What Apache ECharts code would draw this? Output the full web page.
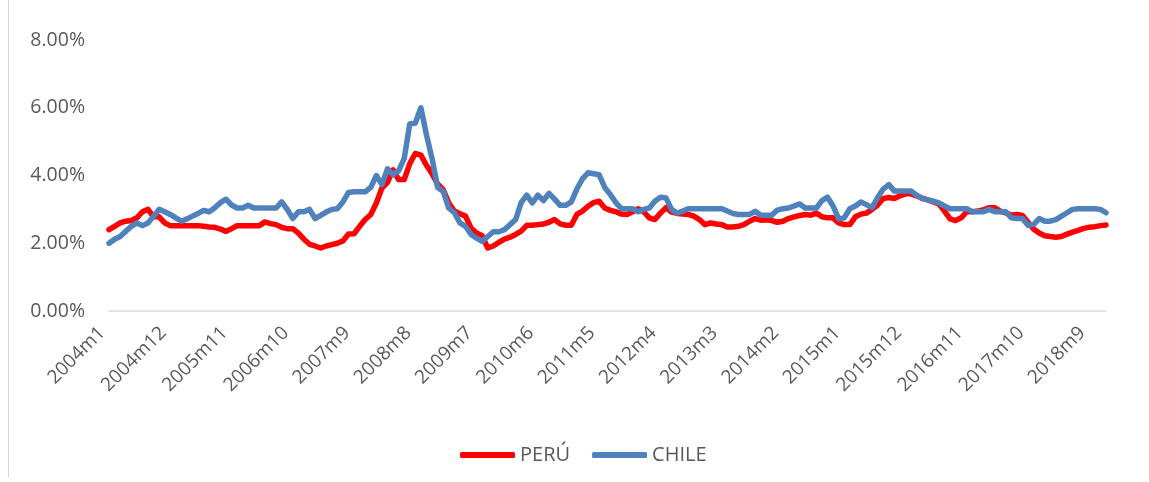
<!DOCTYPE html>
<html>
<head>
<meta charset="utf-8">
<script src="https://cdn.jsdelivr.net/npm/echarts@6/dist/echarts.min.js"></script>
<style>
  html, body { margin: 0; padding: 0; background: #fff; }
  #main { width: 1149px; height: 482px; }
</style>
</head>
<body>
<div id="main"></div>
<script>
// monthly labels 2004m1 .. 2018m12
var months = [];
for (var y = 2004; y <= 2018; y++) {
  for (var m = 1; m <= 12; m++) months.push(y + 'm' + m);
}

// PERÚ (%)
var peru = [
  2.4, 2.5, 2.6, 2.65, 2.67, 2.75, 2.93, 3.0, 2.78, 2.78,
  2.6, 2.52, 2.52, 2.52, 2.52, 2.52, 2.52, 2.5, 2.48, 2.47,
  2.42, 2.35, 2.43, 2.52, 2.52, 2.52, 2.52, 2.52, 2.63, 2.58,
  2.55, 2.47, 2.43, 2.43, 2.3, 2.12, 1.97, 1.92, 1.86, 1.92,
  1.96, 2.0, 2.07, 2.27, 2.28, 2.5, 2.7, 2.85, 3.19, 3.63,
  3.8, 4.17, 3.88, 3.88, 4.35, 4.65, 4.6, 4.3, 4.05, 3.75,
  3.58, 3.19, 2.95, 2.87, 2.8, 2.45, 2.3, 2.22, 1.86, 1.92,
  2.03, 2.12, 2.18, 2.26, 2.36, 2.53, 2.53, 2.55, 2.57, 2.62,
  2.7, 2.57, 2.53, 2.53, 2.85, 2.95, 3.09, 3.2, 3.24, 3.04,
  2.97, 2.93, 2.86, 2.85, 2.93, 3.02, 2.93, 2.75, 2.7, 2.89,
  3.05, 2.92, 2.88, 2.86, 2.85, 2.8, 2.7, 2.55, 2.6, 2.57,
  2.55, 2.48, 2.48, 2.5, 2.55, 2.65, 2.73, 2.68, 2.69, 2.67,
  2.62, 2.65, 2.73, 2.78, 2.82, 2.85, 2.83, 2.89, 2.78, 2.75,
  2.75, 2.6, 2.55, 2.55, 2.78, 2.86, 2.89, 3.0, 3.13, 3.32,
  3.35, 3.32, 3.4, 3.46, 3.46, 3.4, 3.33, 3.28, 3.22, 3.16,
  2.95, 2.72, 2.67, 2.75, 2.93, 2.93, 2.95, 2.99, 3.05, 3.05,
  2.95, 2.9, 2.83, 2.85, 2.82, 2.62, 2.42, 2.3, 2.22, 2.2,
  2.18, 2.2, 2.27, 2.33, 2.38, 2.44, 2.47, 2.49, 2.52, 2.54
];

// CHILE (%)
var chile = [
  2.0, 2.12, 2.2, 2.35, 2.5, 2.6, 2.52, 2.6, 2.8, 3.0,
  2.93, 2.85, 2.75, 2.65, 2.72, 2.8, 2.88, 2.97, 2.93, 3.05,
  3.2, 3.3, 3.13, 3.04, 3.04, 3.12, 3.04, 3.04, 3.04, 3.04,
  3.04, 3.22, 3.0, 2.73, 2.93, 2.93, 3.0, 2.73, 2.82, 2.92,
  3.0, 3.02, 3.22, 3.5, 3.52, 3.52, 3.52, 3.65, 4.0, 3.73,
  4.2, 4.02, 4.14, 4.5, 5.52, 5.55, 6.0, 5.2, 4.5, 3.65,
  3.53, 3.04, 2.9, 2.6, 2.5, 2.26, 2.15, 2.06, 2.2, 2.34,
  2.34, 2.4, 2.55, 2.7, 3.2, 3.42, 3.19, 3.42, 3.26, 3.47,
  3.3, 3.12, 3.12, 3.22, 3.6, 3.9, 4.08, 4.05, 4.02, 3.65,
  3.44, 3.2, 3.02, 3.02, 3.02, 2.93, 3.0, 3.04, 3.24, 3.36,
  3.34, 3.0, 2.89, 2.95, 3.02, 3.02, 3.02, 3.02, 3.02, 3.02,
  3.02, 2.95, 2.88, 2.85, 2.85, 2.85, 2.94, 2.83, 2.83, 2.83,
  2.98, 3.02, 3.04, 3.1, 3.16, 3.04, 3.04, 3.04, 3.26, 3.36,
  3.1, 2.72, 2.75, 3.02, 3.1, 3.22, 3.14, 3.05, 3.35, 3.6,
  3.73, 3.54, 3.54, 3.54, 3.54, 3.42, 3.32, 3.28, 3.24, 3.19,
  3.1, 3.02, 3.02, 3.02, 3.02, 2.93, 2.93, 2.93, 3.0, 2.93,
  2.93, 2.93, 2.75, 2.73, 2.73, 2.53, 2.55, 2.73, 2.65, 2.65,
  2.7, 2.8, 2.9, 3.0, 3.02, 3.02, 3.02, 3.02, 3.0, 2.9
];

var textColor = '#595959';
var fontFam = '"Open Sans", sans-serif';

var chartDom = document.getElementById('main');
var myChart = echarts.init(chartDom);

var option = {
  animation: false,
  grid: { left: 109, right: 43, top: 40, bottom: 171 },
  legend: {
    left: 455,
    top: 440,
    itemWidth: 55,
    itemHeight: 6,
    itemGap: 22,
    icon: 'roundRect',
    textStyle: { color: textColor, fontSize: 20, fontFamily: fontFam },
    data: ['PERÚ', 'CHILE']
  },
  xAxis: {
    type: 'category',
    boundaryGap: false,
    data: months,
    axisLine: { lineStyle: { color: '#d9d9d9', width: 1.5 } },
    axisTick: { show: false },
    axisLabel: {
      interval: 10,
      rotate: 45,
      margin: 12,
      color: textColor,
      fontSize: 19,
      fontFamily: fontFam,
      // pad the end so the rotated text sits a bit down-left of its tick
      formatter: function (v) { return v + '\u00a0\u00a0'; }
    }
  },
  yAxis: {
    type: 'value',
    min: 0,
    max: 8,
    interval: 2,
    splitLine: { show: false },
    axisLine: { show: false },
    axisTick: { show: false },
    axisLabel: {
      margin: 24,
      color: textColor,
      fontSize: 19.5,
      fontFamily: fontFam,
      formatter: function (v) { return v.toFixed(2) + '%'; }
    }
  },
  series: [
    {
      name: 'PERÚ',
      type: 'line',
      data: peru,
      symbol: 'none',
      itemStyle: { color: '#ff0000' },
      lineStyle: { color: '#ff0000', width: 5.5, cap: 'round', join: 'round' }
    },
    {
      name: 'CHILE',
      type: 'line',
      data: chile,
      symbol: 'none',
      itemStyle: { color: '#4f81bd' },
      lineStyle: { color: '#4f81bd', width: 5.5, cap: 'round', join: 'round' }
    }
  ],
  graphic: [
    {
      type: 'line',
      shape: { x1: 8.5, y1: 0, x2: 8.5, y2: 477.5 },
      style: { stroke: '#d9d9d9', lineWidth: 1 }
    }
  ]
};

option && myChart.setOption(option);
</script>
</body>
</html>
